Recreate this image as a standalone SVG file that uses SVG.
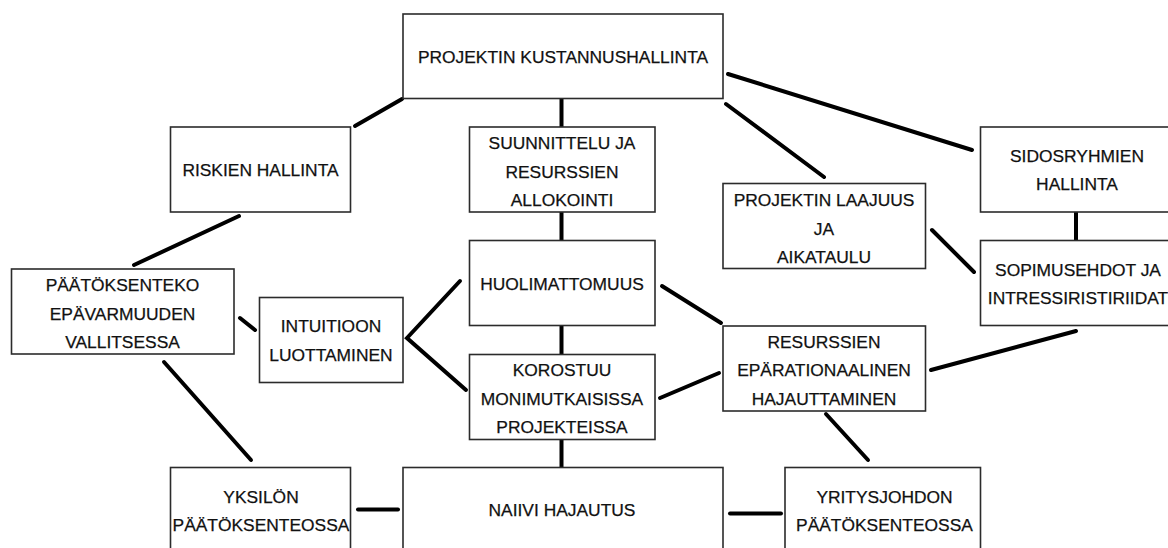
<svg xmlns="http://www.w3.org/2000/svg" width="1168" height="548" viewBox="0 0 1168 548">
<style>
.box{fill:#fff;stroke:#2b2b2b;stroke-width:1.6}
.t{font-family:"Liberation Sans",Arial,sans-serif;font-size:17.4px;fill:#111;stroke:#111;stroke-width:0.25;text-anchor:middle}
.c{stroke:#000;stroke-width:4;stroke-linecap:round;fill:none}
</style>
<rect width="1168" height="548" fill="#fff"/>
<g id="connectors">
<line class="c" x1="402" y1="99" x2="355" y2="126"/>
<line class="c" x1="239" y1="216" x2="134" y2="265"/>
<line class="c" x1="561.5" y1="99" x2="561.5" y2="127"/>
<line class="c" x1="728" y1="74" x2="972" y2="150"/>
<line class="c" x1="726" y1="104" x2="824" y2="177"/>
<line class="c" x1="1076" y1="212" x2="1076" y2="240"/>
<line class="c" x1="932" y1="230" x2="974" y2="272"/>
<line class="c" x1="561.5" y1="212" x2="561.5" y2="240"/>
<line class="c" x1="240" y1="318" x2="255" y2="330"/>
<polyline class="c" points="460,281 407,338 466,390"/>
<line class="c" x1="164" y1="362" x2="251" y2="460"/>
<line class="c" x1="561.5" y1="326" x2="561.5" y2="354"/>
<line class="c" x1="561.5" y1="439" x2="561.5" y2="467"/>
<line class="c" x1="358" y1="509.5" x2="398" y2="509.5"/>
<line class="c" x1="662" y1="286" x2="721" y2="323"/>
<line class="c" x1="660" y1="398" x2="719" y2="373"/>
<line class="c" x1="1076" y1="331" x2="931" y2="370"/>
<line class="c" x1="826" y1="414" x2="868" y2="460"/>
<line class="c" x1="730" y1="513.5" x2="781" y2="513.5"/>
</g>
<g id="n-kustannushallinta">
<rect class="box" x="403" y="14" width="320" height="84.5"/>
<text class="t" x="563" y="62.5">PROJEKTIN KUSTANNUSHALLINTA</text>
</g>
<g id="n-riskien">
<rect class="box" x="170.5" y="127" width="180" height="85"/>
<text class="t" x="260.5" y="176">RISKIEN HALLINTA</text>
</g>
<g id="n-suunnittelu">
<rect class="box" x="469.5" y="127" width="185.5" height="85"/>
<text class="t" x="562" y="149">SUUNNITTELU JA</text>
<text class="t" x="562" y="177.5">RESURSSIEN</text>
<text class="t" x="562" y="206">ALLOKOINTI</text>
</g>
<g id="n-laajuus">
<rect class="box" x="723" y="183.5" width="202.5" height="85"/>
<text class="t" x="824" y="206">PROJEKTIN LAAJUUS</text>
<text class="t" x="824" y="234.5">JA</text>
<text class="t" x="824" y="262.5">AIKATAULU</text>
</g>
<g id="n-sidosryhmien">
<rect class="box" x="980.5" y="127" width="195" height="85"/>
<text class="t" x="1077" y="161.5">SIDOSRYHMIEN</text>
<text class="t" x="1077" y="189.5">HALLINTA</text>
</g>
<g id="n-sopimusehdot">
<rect class="box" x="980.5" y="240.5" width="195" height="85"/>
<text class="t" x="1078" y="275.5">SOPIMUSEHDOT JA</text>
<text class="t" x="1078" y="303.5">INTRESSIRISTIRIIDAT</text>
</g>
<g id="n-paatoksenteko">
<rect class="box" x="11.5" y="269" width="222.5" height="85"/>
<text class="t" x="122.5" y="291">PÄÄTÖKSENTEKO</text>
<text class="t" x="122.5" y="319.5">EPÄVARMUUDEN</text>
<text class="t" x="122.5" y="347.5">VALLITSESSA</text>
</g>
<g id="n-intuitioon">
<rect class="box" x="259.5" y="297.5" width="143.5" height="85"/>
<text class="t" x="331" y="332">INTUITIOON</text>
<text class="t" x="331" y="360.5">LUOTTAMINEN</text>
</g>
<g id="n-huolimattomuus">
<rect class="box" x="469.5" y="240.5" width="185.5" height="85"/>
<text class="t" x="562" y="289.5">HUOLIMATTOMUUS</text>
</g>
<g id="n-korostuu">
<rect class="box" x="469.5" y="354.5" width="185.5" height="85"/>
<text class="t" x="562" y="376">KOROSTUU</text>
<text class="t" x="562" y="404.5">MONIMUTKAISISSA</text>
<text class="t" x="562" y="432.5">PROJEKTEISSA</text>
</g>
<g id="n-resurssien">
<rect class="box" x="723" y="326" width="202.5" height="85"/>
<text class="t" x="824" y="347.5">RESURSSIEN</text>
<text class="t" x="824" y="376">EPÄRATIONAALINEN</text>
<text class="t" x="824" y="404.5">HAJAUTTAMINEN</text>
</g>
<g id="n-yksilon">
<rect class="box" x="170.5" y="467.5" width="180" height="90"/>
<text class="t" x="261" y="502.5">YKSILÖN</text>
<text class="t" x="261" y="531">PÄÄTÖKSENTEOSSA</text>
</g>
<g id="n-naiivi">
<rect class="box" x="403" y="467.5" width="320" height="90"/>
<text class="t" x="562" y="515.5">NAIIVI HAJAUTUS</text>
</g>
<g id="n-yritysjohdon">
<rect class="box" x="785" y="467.5" width="195.5" height="90"/>
<text class="t" x="884.5" y="502.5">YRITYSJOHDON</text>
<text class="t" x="884.5" y="531">PÄÄTÖKSENTEOSSA</text>
</g>
</svg>
